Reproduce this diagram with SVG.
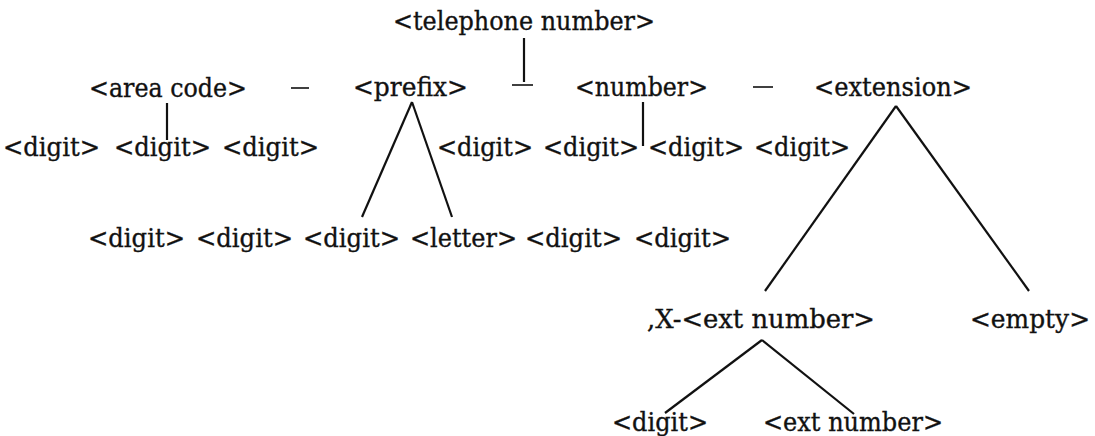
<svg xmlns="http://www.w3.org/2000/svg" width="1095" height="436" viewBox="0 0 1095 436">
<style>
text{font-family:"DejaVu Serif","Liberation Serif",serif;font-size:26px;fill:#111;stroke:#111;stroke-width:0.35}
.c line{stroke:#111;stroke-width:2.2;stroke-linecap:butt}
.d line{stroke:#111;stroke-width:1.6}
</style>
<rect width="1095" height="436" fill="#fff"/>
<g class="c" id="connectors">
<line x1="524" y1="38" x2="524" y2="82"/>
<line x1="167" y1="103" x2="167" y2="140"/>
<line x1="412" y1="102" x2="362" y2="217"/>
<line x1="412" y1="102" x2="452" y2="217"/>
<line x1="643" y1="102" x2="643" y2="146"/>
<line x1="896" y1="106" x2="765" y2="291"/>
<line x1="896" y1="106" x2="1029" y2="291"/>
<line x1="762" y1="340" x2="665" y2="413"/>
<line x1="762" y1="340" x2="854" y2="414"/>
</g>
<g class="d" id="dashes">
<line x1="291" y1="88" x2="309" y2="88"/>
<line x1="512" y1="85" x2="533" y2="85"/>
<line x1="753" y1="87" x2="773" y2="87"/>
</g>
<g id="n-telephone"><text x="393" y="30" textLength="262" lengthAdjust="spacingAndGlyphs">&lt;telephone number&gt;</text></g>
<g id="n-areacode"><text x="89" y="97" textLength="158" lengthAdjust="spacingAndGlyphs">&lt;area code&gt;</text></g>
<g id="n-prefix"><text x="353" y="96" textLength="115" lengthAdjust="spacingAndGlyphs">&lt;prefix&gt;</text></g>
<g id="n-number"><text x="575" y="96" textLength="133" lengthAdjust="spacingAndGlyphs">&lt;number&gt;</text></g>
<g id="n-extension"><text x="814" y="96" textLength="158" lengthAdjust="spacingAndGlyphs">&lt;extension&gt;</text></g>
<g id="n-ac-d1"><text x="3" y="156" textLength="97" lengthAdjust="spacingAndGlyphs">&lt;digit&gt;</text></g>
<g id="n-ac-d2"><text x="114" y="156" textLength="97" lengthAdjust="spacingAndGlyphs">&lt;digit&gt;</text></g>
<g id="n-ac-d3"><text x="222" y="156" textLength="97" lengthAdjust="spacingAndGlyphs">&lt;digit&gt;</text></g>
<g id="n-nu-d1"><text x="437" y="156" textLength="96" lengthAdjust="spacingAndGlyphs">&lt;digit&gt;</text></g>
<g id="n-nu-d2"><text x="543" y="156" textLength="96" lengthAdjust="spacingAndGlyphs">&lt;digit&gt;</text></g>
<g id="n-nu-d3"><text x="648" y="156" textLength="96" lengthAdjust="spacingAndGlyphs">&lt;digit&gt;</text></g>
<g id="n-nu-d4"><text x="754" y="156" textLength="96" lengthAdjust="spacingAndGlyphs">&lt;digit&gt;</text></g>
<g id="n-pr-d1"><text x="88" y="247" textLength="97" lengthAdjust="spacingAndGlyphs">&lt;digit&gt;</text></g>
<g id="n-pr-d2"><text x="196" y="247" textLength="97" lengthAdjust="spacingAndGlyphs">&lt;digit&gt;</text></g>
<g id="n-pr-d3"><text x="303" y="247" textLength="97" lengthAdjust="spacingAndGlyphs">&lt;digit&gt;</text></g>
<g id="n-pr-letter"><text x="410" y="247" textLength="107" lengthAdjust="spacingAndGlyphs">&lt;letter&gt;</text></g>
<g id="n-pr-d4"><text x="525" y="247" textLength="97" lengthAdjust="spacingAndGlyphs">&lt;digit&gt;</text></g>
<g id="n-pr-d5"><text x="634" y="247" textLength="97" lengthAdjust="spacingAndGlyphs">&lt;digit&gt;</text></g>
<g id="n-xext"><text x="647" y="328" textLength="228" lengthAdjust="spacingAndGlyphs">,X-&lt;ext number&gt;</text></g>
<g id="n-empty"><text x="970" y="328" textLength="120" lengthAdjust="spacingAndGlyphs">&lt;empty&gt;</text></g>
<g id="n-ext-digit"><text x="612" y="431" textLength="96" lengthAdjust="spacingAndGlyphs">&lt;digit&gt;</text></g>
<g id="n-ext-number"><text x="763" y="431" textLength="180" lengthAdjust="spacingAndGlyphs">&lt;ext number&gt;</text></g>
</svg>
